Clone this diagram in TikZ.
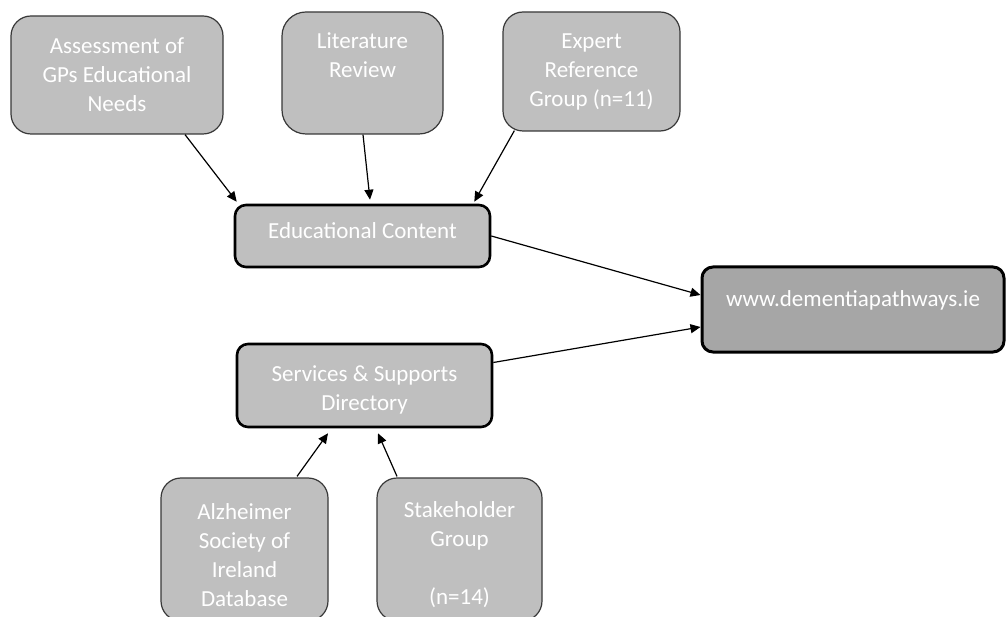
\documentclass[tikz,border=0pt]{standalone}
\usepackage{fontspec}
\setmainfont{Carlito}
\usetikzlibrary{arrows.meta}

\begin{document}
\begin{tikzpicture}[x=1pt, y=-1pt, font=\fontsize{23}{29}\selectfont,
  box/.style={draw=black!78, line width=1.2pt, fill=black!25, text=white, align=center, rounded corners=20pt, inner sep=0pt},
  hub/.style={draw=black, line width=2.6pt, fill=black!25, text=white, align=center, rounded corners=11pt, inner sep=0pt},
  >={Triangle[length=10pt, width=9pt]}, line width=1.2pt]
\useasboundingbox (0,0) rectangle (1006,617);
\clip (0,0) rectangle (1006,617);

\node[box, minimum width=212pt, minimum height=118pt] (gps) at (117, 75) {Assessment of\\GPs Educational\\Needs};
\node[box, minimum width=161pt, minimum height=122pt, rounded corners=24pt, text depth=6pt] (lit) at (362.5, 73) {Literature\\Review\\\mbox{}};
\node[box, minimum width=177pt, minimum height=119pt] (erg) at (591.5, 71.5) {Expert\\Reference\\Group (n=11)};

\node[hub, minimum width=255pt, minimum height=62pt, text depth=10pt] (edu) at (362.5, 236) {Educational Content};
\node[hub, minimum width=255pt, minimum height=83pt, text height=54pt] (ssd) at (364.5, 385.5) {Services \& Supports\\Directory};
\node[hub, minimum width=302pt, minimum height=85pt, line width=3pt, fill=black!35, text depth=21pt] (web) at (853, 309.5) {www.dementiapathways.ie};

\node[box, minimum width=167pt, minimum height=143pt, text height=114pt] (asi) at (244.5, 549.5) {Alzheimer\\Society of\\Ireland\\Database};
\node[box, minimum width=165pt, minimum height=143pt, text height=114pt] (stk) at (459.5, 549.5) {Stakeholder\\Group\\[29pt](n=14)};

\draw[->] ([xshift=68pt]gps.south) -- ([xshift=3pt, yshift=2pt]edu.north west);
\draw[->] ([xshift=0.5pt]lit.south) -- ([xshift=7.5pt, yshift=4pt]edu.north);
\draw[->] ([xshift=12pt, yshift=1pt]erg.south west) -- ([xshift=-17pt, yshift=2pt]edu.north east);

\draw[->] (edu.east) -- ([yshift=14.5pt]web.west);
\draw[->] ([yshift=23pt]ssd.east) -- ([yshift=-17.5pt]web.west);

\draw[->] ([xshift=52.5pt, yshift=1pt]asi.north) -- ([xshift=-36.5pt, yshift=-5pt]ssd.south);
\draw[->] ([xshift=-62.5pt, yshift=1pt]stk.north) -- ([xshift=13.5pt, yshift=-5pt]ssd.south);

\end{tikzpicture}
\end{document}
